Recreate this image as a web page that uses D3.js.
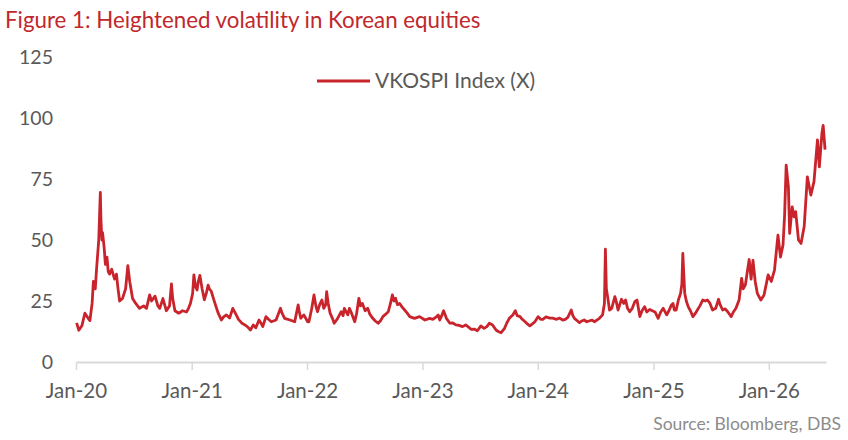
<!DOCTYPE html>
<html>
<head>
<meta charset="utf-8">
<script src="https://cdn.jsdelivr.net/npm/d3@7"></script>
<style>
  body { margin: 0; background: #fff; }
  svg { display: block; }
</style>
</head>
<body>
<div id="chart"></div>
<script>
// VKOSPI readings, one small list per year: [date, index level]
const y2020 = [
  ["2020-01-03",16],["2020-01-10",13],["2020-01-20",15],["2020-01-29",20],["2020-02-08",18],
  ["2020-02-14",17],["2020-02-21",24],["2020-02-25",33],["2020-03-02",30],["2020-03-06",38],
  ["2020-03-13",50],["2020-03-18",69.5],["2020-03-20",58],["2020-03-23",50],["2020-03-25",53],
  ["2020-03-30",47],["2020-04-03",40],["2020-04-08",43],["2020-04-12",37],["2020-04-16",36],
  ["2020-04-23",38],["2020-05-02",34],["2020-05-08",36],["2020-05-13",30],["2020-05-18",25],
  ["2020-05-27",26],["2020-06-06",30],["2020-06-13",39.5],["2020-06-19",33],["2020-06-28",26],
  ["2020-07-08",24],["2020-07-20",22],["2020-08-02",23],["2020-08-11",22],["2020-08-21",27.5],
  ["2020-08-27",25],["2020-09-07",27],["2020-09-16",23],["2020-09-22",22],["2020-10-02",26],
  ["2020-10-13",21],["2020-10-23",23],["2020-10-29",32],["2020-11-02",26],["2020-11-09",21],
  ["2020-11-21",20],["2020-12-03",21],["2020-12-16",20.5],["2020-12-22",22],["2020-12-28",24]
]
const y2021 = [
  ["2021-01-04",28],["2021-01-08",35.7],["2021-01-13",31],["2021-01-18",29.5],["2021-01-22",33],
  ["2021-01-27",35.5],["2021-02-03",30],["2021-02-10",25.5],["2021-02-16",28],["2021-02-22",31.5],
  ["2021-02-26",30],["2021-03-04",29],["2021-03-11",26],["2021-03-19",22.7],["2021-03-26",20],
  ["2021-04-05",17.2],["2021-04-12",18.5],["2021-04-21",19.3],["2021-05-01",18],["2021-05-11",22],
  ["2021-05-22",19.3],["2021-05-29",17.5],["2021-06-08",16],["2021-06-18",15.2],["2021-06-26",14.5],
  ["2021-07-06",13.1],["2021-07-15",15.2],["2021-07-23",14],["2021-08-02",17.2],["2021-08-08",16],
  ["2021-08-14",14.5],["2021-08-24",18.6],["2021-09-01",17.5],["2021-09-10",16.5],["2021-09-25",17.2],
  ["2021-10-09",22],["2021-10-14",20],["2021-10-22",17.9],["2021-11-08",17.2],["2021-11-23",16.5],
  ["2021-12-04",23.4],["2021-12-07",21],["2021-12-12",17.9],["2021-12-22",19.3]
]
const y2022 = [
  ["2022-01-03",16.5],["2022-01-07",16.5],["2022-01-16",22],["2022-01-23",27.5],["2022-01-29",23],
  ["2022-02-03",20.6],["2022-02-10",23.5],["2022-02-17",25.4],["2022-02-23",22],["2022-03-01",23.4],
  ["2022-03-04",28.8],["2022-03-09",24],["2022-03-15",20],["2022-03-22",18],["2022-03-28",15.9],
  ["2022-04-06",17.5],["2022-04-19",20.6],["2022-04-25",19],["2022-04-29",22],["2022-05-10",19.3],
  ["2022-05-15",22],["2022-05-20",20.6],["2022-06-01",16.5],["2022-06-07",20],["2022-06-14",26.1],
  ["2022-06-19",23],["2022-06-25",24],["2022-07-04",21],["2022-07-12",22],["2022-07-19",19.5],
  ["2022-07-28",17.9],["2022-08-05",16.8],["2022-08-14",15.9],["2022-08-22",17],["2022-08-29",18.6],
  ["2022-09-06",19.5],["2022-09-15",20.6],["2022-09-22",24],["2022-09-28",27.5],["2022-10-03",25],
  ["2022-10-08",26.1],["2022-10-14",23.5],["2022-10-21",24],["2022-10-29",22.5],["2022-11-06",21.3],
  ["2022-11-14",20],["2022-11-22",18.6],["2022-12-07",17.9],["2022-12-23",18.6]
]
const y2023 = [
  ["2023-01-09",17.2],["2023-01-24",17.9],["2023-02-03",17.5],["2023-02-15",18.6],["2023-02-20",19.3],
  ["2023-02-25",17.2],["2023-03-03",19],["2023-03-09",21],["2023-03-15",19],["2023-03-18",17.9],
  ["2023-03-29",15.9],["2023-04-07",16],["2023-04-17",15.2],["2023-04-27",15],["2023-05-08",14.5],
  ["2023-05-18",15.2],["2023-05-25",14.5],["2023-06-04",13.4],["2023-06-14",13.5],["2023-06-24",12.8],
  ["2023-07-05",14.8],["2023-07-15",13.8],["2023-07-24",14.5],["2023-08-01",15.9],["2023-08-11",15.2],
  ["2023-08-22",13.1],["2023-08-29",12.5],["2023-09-07",12],["2023-09-18",13.8],["2023-09-25",16],
  ["2023-10-03",17.9],["2023-10-14",19.3],["2023-10-22",21],["2023-10-28",19],["2023-11-06",18.6],
  ["2023-11-13",17.5],["2023-11-22",16.5],["2023-11-30",15.5],["2023-12-07",14.8],["2023-12-14",15.5],
  ["2023-12-23",16.5]
]
const y2024 = [
  ["2024-01-02",18.6],["2024-01-10",17.5],["2024-01-17",17.5],["2024-01-27",18.5],["2024-02-08",18],
  ["2024-02-17",18],["2024-03-01",17.5],["2024-03-10",18],["2024-03-20",17.2],["2024-03-28",17.5],
  ["2024-04-05",18.3],["2024-04-16",21.3],["2024-04-21",19],["2024-04-26",17.9],["2024-05-04",17],
  ["2024-05-12",16.1],["2024-05-19",16.8],["2024-05-27",17.2],["2024-06-04",16.5],["2024-06-13",16.9],
  ["2024-06-21",17.2],["2024-06-28",16.5],["2024-07-07",17.3],["2024-07-14",17.9],["2024-07-24",19.3],
  ["2024-07-30",24],["2024-08-02",46.2],["2024-08-05",30],["2024-08-09",26.8],["2024-08-15",21.3],
  ["2024-08-22",22],["2024-09-01",26.8],["2024-09-05",25],["2024-09-11",21.3],["2024-09-22",25.7],
  ["2024-09-29",24],["2024-10-05",25.4],["2024-10-11",22],["2024-10-18",20.6],["2024-10-26",22],
  ["2024-11-03",24.7],["2024-11-10",25.4],["2024-11-19",18.6],["2024-11-26",21],["2024-12-04",22.7],
  ["2024-12-11",20.5],["2024-12-20",21.5]
]
const y2025 = [
  ["2025-01-06",20.5],["2025-01-16",17.9],["2025-01-24",20.5],["2025-02-01",22],["2025-02-12",19.3],
  ["2025-02-19",21],["2025-02-27",23.4],["2025-03-04",24],["2025-03-08",21.3],["2025-03-14",21.3],
  ["2025-03-21",25.4],["2025-03-28",28.2],["2025-04-01",32],["2025-04-04",44.5],["2025-04-07",36],
  ["2025-04-10",28.2],["2025-04-15",25],["2025-04-21",22.7],["2025-04-28",21],["2025-05-06",18.6],
  ["2025-05-14",20],["2025-05-20",21.3],["2025-05-28",23],["2025-06-06",25.4],["2025-06-14",25],
  ["2025-06-21",25.4],["2025-06-29",24],["2025-07-07",21.3],["2025-07-17",22],["2025-07-26",25.7],
  ["2025-07-31",23.5],["2025-08-08",21.3],["2025-08-16",21.8],["2025-08-24",20.6],["2025-09-04",18.6],
  ["2025-09-11",20.5],["2025-09-19",22],["2025-09-29",25.4],["2025-10-07",34.3],["2025-10-12",30],
  ["2025-10-19",31.6],["2025-10-25",37],["2025-10-31",42],["2025-11-06",34],["2025-11-12",41.6],
  ["2025-11-19",33],["2025-11-26",28],["2025-12-07",25.4],["2025-12-17",27.5],["2025-12-30",35.7]
]
const y2026 = [
  ["2026-01-09",33],["2026-01-19",37.7],["2026-01-30",52],["2026-02-07",43],["2026-02-15",48],
  ["2026-02-20",60],["2026-02-25",80.7],["2026-03-04",71.8],["2026-03-08",52.7],["2026-03-16",63.6],
  ["2026-03-22",59.5],["2026-03-27",61.6],["2026-04-05",50],["2026-04-13",48.6],["2026-04-23",55.5],
  ["2026-05-03",75.9],["2026-05-14",68.4],["2026-05-24",73.9],["2026-06-04",91],["2026-06-10",80],
  ["2026-06-18",93.7],["2026-06-22",97],["2026-06-28",87]
]

const yTicks = [0, 25, 50, 75, 100, 125]
const xTickYears = [2020, 2021, 2022, 2023, 2024, 2025, 2026]
const titleText = 'Figure 1: Heightened volatility in Korean equities'
const legendText = 'VKOSPI Index (X)'
const sourceText = 'Source: Bloomberg, DBS'

// canvas
const width = 848
const height = 440
const margin = { top: 57, bottom: 78, left: 76, right: 22 }
const w = width - margin.left - margin.right
const h = height - margin.top - margin.bottom
const lineCol = '#c9232b'
const textCol = '#595959'
const fontFam = 'Lato, "Open Sans", sans-serif'

const parseDate = d3.timeParse('%Y-%m-%d')
const series = [].concat(y2020, y2021, y2022, y2023, y2024, y2025, y2026)
  .map(d => ({ date: parseDate(d[0]), value: d[1] }))

const svg = d3.select('#chart').append('svg')
  .attr('width', width)
  .attr('height', height)
  .style('font-family', fontFam)

const g = svg.append('g')
  .attr('transform', `translate(${margin.left}, ${margin.top})`)

const xScale = d3.scaleTime()
  .domain([new Date(2020, 0, 1), new Date(2026, 6, 1)])
  .range([0, w])
const yScale = d3.scaleLinear()
  .domain([0, 125])
  .range([h, 0])

// x axis: light baseline with ticks pointing down
const xAxis = g.append('g')
  .attr('transform', `translate(0, ${h})`)
  .call(d3.axisBottom(xScale)
    .tickValues(xTickYears.map(y => new Date(y, 0, 1)))
    .tickFormat(d3.timeFormat('%b-%y'))
    .tickSize(8)
    .tickSizeOuter(0)
    .tickPadding(13))
xAxis.select('.domain').attr('stroke', '#d9d9d9').attr('stroke-width', 2)
xAxis.selectAll('.tick line').attr('stroke', '#d9d9d9').attr('stroke-width', 1.5)
xAxis.selectAll('.tick text')
  .attr('fill', textCol)
  .style('font-family', fontFam)
  .style('font-size', '20.5px')

// y axis: labels only
const yAxis = g.append('g')
  .call(d3.axisLeft(yScale)
    .tickValues(yTicks)
    .tickSize(0)
    .tickPadding(23))
yAxis.select('.domain').remove()
yAxis.selectAll('.tick text')
  .attr('fill', textCol)
  .style('font-family', fontFam)
  .style('font-size', '19.5px')

// series
g.append('path')
  .datum(series)
  .attr('fill', 'none')
  .attr('stroke', lineCol)
  .attr('stroke-width', 2.8)
  .attr('stroke-linejoin', 'round')
  .attr('d', d3.line()
    .x(d => xScale(d.date))
    .y(d => yScale(d.value)))

// title
svg.append('text')
  .attr('x', 5)
  .attr('y', 28)
  .attr('fill', '#c0282d')
  .style('font-size', '22.3px')
  .text(titleText)

// legend
const leg = svg.append('g').attr('transform', 'translate(317, 81)')
leg.append('line')
  .attr('x1', 0).attr('x2', 53)
  .attr('stroke', lineCol)
  .attr('stroke-width', 3)
leg.append('text')
  .attr('x', 58)
  .attr('dy', '0.35em')
  .attr('fill', textCol)
  .style('font-size', '21px')
  .text(legendText)

// source note
svg.append('text')
  .attr('x', 841)
  .attr('y', 430)
  .attr('text-anchor', 'end')
  .attr('fill', '#8c8c8c')
  .style('font-size', '17.5px')
  .text(sourceText)
</script>
</body>
</html>
